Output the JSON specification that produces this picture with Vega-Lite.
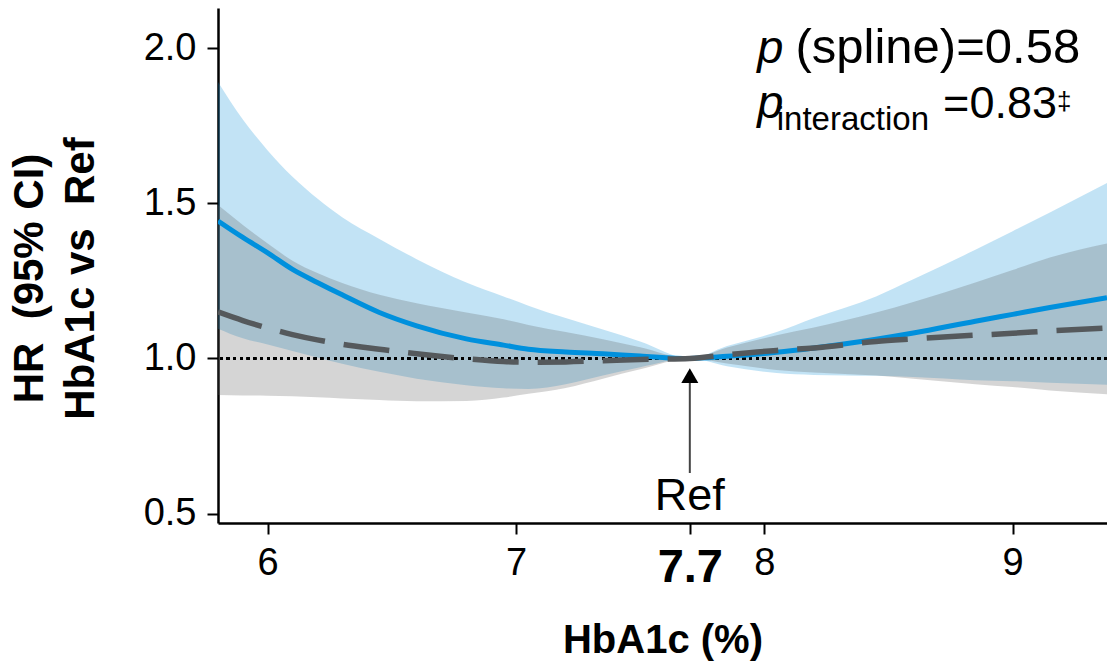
{
  "$schema": "https://vega.github.io/schema/vega-lite/v6.json",
  "width": 889,
  "height": 515,
  "autosize": {"type": "none"},
  "padding": {"left": 218, "top": 8, "right": 0, "bottom": 140},
  "background": "white",
  "config": {"view": {"stroke": null}, "font": "Liberation Sans"},
  "data": {
    "values": [
      {"x": 5.8, "b": 1.443, "bl": 1.096, "bu": 1.891, "g": 1.15, "gl": 0.882, "gu": 1.494},
      {"x": 5.9, "b": 1.39, "bl": 1.065, "bu": 1.77, "g": 1.122, "gl": 0.881, "gu": 1.43},
      {"x": 6.0, "b": 1.34, "bl": 1.045, "bu": 1.67, "g": 1.098, "gl": 0.88, "gu": 1.37},
      {"x": 6.1, "b": 1.287, "bl": 1.024, "bu": 1.585, "g": 1.077, "gl": 0.878, "gu": 1.315},
      {"x": 6.2, "b": 1.245, "bl": 1.003, "bu": 1.515, "g": 1.06, "gl": 0.875, "gu": 1.275},
      {"x": 6.3, "b": 1.205, "bl": 0.983, "bu": 1.455, "g": 1.046, "gl": 0.871, "gu": 1.243},
      {"x": 6.45, "b": 1.148, "bl": 0.957, "bu": 1.385, "g": 1.03, "gl": 0.866, "gu": 1.205},
      {"x": 6.6, "b": 1.105, "bl": 0.935, "bu": 1.32, "g": 1.015, "gl": 0.862, "gu": 1.178},
      {"x": 6.8, "b": 1.063, "bl": 0.914, "bu": 1.245, "g": 0.999, "gl": 0.863, "gu": 1.148},
      {"x": 6.95, "b": 1.043, "bl": 0.904, "bu": 1.2, "g": 0.99, "gl": 0.874, "gu": 1.126},
      {"x": 7.05, "b": 1.03, "bl": 0.902, "bu": 1.17, "g": 0.988, "gl": 0.886, "gu": 1.108},
      {"x": 7.2, "b": 1.021, "bl": 0.917, "bu": 1.13, "g": 0.989, "gl": 0.905, "gu": 1.085},
      {"x": 7.35, "b": 1.015, "bl": 0.945, "bu": 1.093, "g": 0.993, "gl": 0.935, "gu": 1.062},
      {"x": 7.5, "b": 1.008, "bl": 0.972, "bu": 1.055, "g": 0.997, "gl": 0.965, "gu": 1.036},
      {"x": 7.7, "b": 1.0, "bl": 1.0, "bu": 1.0, "g": 1.0, "gl": 1.0, "gu": 1.0},
      {"x": 7.85, "b": 1.007, "bl": 0.975, "bu": 1.04, "g": 1.012, "gl": 0.984, "gu": 1.035},
      {"x": 8.05, "b": 1.02, "bl": 0.953, "bu": 1.085, "g": 1.026, "gl": 0.963, "gu": 1.075},
      {"x": 8.2, "b": 1.034, "bl": 0.947, "bu": 1.13, "g": 1.034, "gl": 0.955, "gu": 1.1},
      {"x": 8.45, "b": 1.062, "bl": 0.944, "bu": 1.2, "g": 1.055, "gl": 0.945, "gu": 1.148},
      {"x": 8.6, "b": 1.082, "bl": 0.94, "bu": 1.255, "g": 1.063, "gl": 0.935, "gu": 1.182},
      {"x": 8.85, "b": 1.12, "bl": 0.93, "bu": 1.35, "g": 1.075, "gl": 0.917, "gu": 1.245},
      {"x": 9.0, "b": 1.142, "bl": 0.927, "bu": 1.41, "g": 1.081, "gl": 0.908, "gu": 1.285},
      {"x": 9.15, "b": 1.164, "bl": 0.922, "bu": 1.47, "g": 1.089, "gl": 0.897, "gu": 1.325},
      {"x": 9.38, "b": 1.196, "bl": 0.915, "bu": 1.565, "g": 1.098, "gl": 0.885, "gu": 1.37}
    ]
  },
  "layer": [
    {
      "mark": {"type": "area", "color": "#0b8fd7", "opacity": 0.25, "interpolate": "monotone", "clip": true},
      "encoding": {
        "x": {
          "field": "x", "type": "quantitative",
          "scale": {"domain": [5.8, 9.38], "nice": false, "zero": false},
          "axis": {
            "title": "HbA1c (%)",
            "values": [6, 7, 7.7, 8, 9],
            "labelExpr": "'' + datum.value",
            "grid": false,
            "domainColor": "black", "domainWidth": 2.5,
            "tickColor": "black", "tickWidth": 2, "tickSize": 11,
            "labelColor": "black",
            "labelFontSize": {"condition": {"test": "datum.value == 7.7", "value": 47}, "value": 38},
            "labelFontWeight": {"condition": {"test": "datum.value == 7.7", "value": "bold"}, "value": "normal"},
            "labelPadding": 10,
            "labelFlush": false,
            "labelOverlap": false,
            "titleFontSize": 40, "titleFontWeight": "bold", "titleColor": "black",
            "titlePadding": 30
          }
        },
        "y": {
          "field": "bu", "type": "quantitative",
          "scale": {"domain": [0.47, 2.129], "nice": false, "zero": false},
          "axis": {
            "title": ["HR \u00a0(95% CI)", "HbA1c vs \u00a0Ref"],
            "values": [0.5, 1, 1.5, 2],
            "format": ".1f",
            "grid": false,
            "domainColor": "black", "domainWidth": 2.5,
            "tickColor": "black", "tickWidth": 2, "tickSize": 11,
            "labelColor": "black", "labelFontSize": 38, "labelPadding": 11,
            "labelFlush": false,
            "titleFontSize": 42, "titleFontWeight": "bold", "titleColor": "black",
            "titleLineHeight": 51,
            "titlePadding": 41,
            "titleY": 270
          }
        },
        "y2": {"field": "bl"}
      }
    },
    {
      "mark": {"type": "area", "color": "#575757", "opacity": 0.25, "interpolate": "monotone", "clip": true},
      "encoding": {
        "x": {"field": "x", "type": "quantitative"},
        "y": {"field": "gu", "type": "quantitative"},
        "y2": {"field": "gl"}
      }
    },
    {
      "mark": {"type": "rule", "color": "black", "strokeWidth": 2.5, "strokeDash": [2.5, 4.2]},
      "encoding": {"y": {"datum": 1}}
    },
    {
      "mark": {"type": "line", "color": "#0090dd", "strokeWidth": 5, "interpolate": "monotone", "clip": true},
      "encoding": {
        "x": {"field": "x", "type": "quantitative"},
        "y": {"field": "b", "type": "quantitative"}
      }
    },
    {
      "mark": {"type": "line", "color": "#55595c", "strokeWidth": 5.5, "strokeDash": [46, 19], "interpolate": "monotone", "clip": true},
      "encoding": {
        "x": {"field": "x", "type": "quantitative"},
        "y": {"field": "g", "type": "quantitative"}
      }
    },
    {
      "data": {"values": [{"ax": 7.7, "ay": 0.631, "ay2": 0.93}]},
      "mark": {"type": "rule", "color": "#444444", "strokeWidth": 2},
      "encoding": {
        "x": {"field": "ax", "type": "quantitative"},
        "y": {"field": "ay", "type": "quantitative"},
        "y2": {"field": "ay2"}
      }
    },
    {
      "data": {"values": [{"ax": 7.7, "ay": 0.945}]},
      "mark": {"type": "point", "shape": "triangle-up", "filled": true, "color": "black", "opacity": 1, "size": 290},
      "encoding": {
        "x": {"field": "ax", "type": "quantitative"},
        "y": {"field": "ay", "type": "quantitative"}
      }
    },
    {
      "data": {"values": [{"tx": 7.7, "ty": 0.512, "t": "Ref"}]},
      "mark": {"type": "text", "align": "center", "baseline": "alphabetic", "fontSize": 45, "color": "black"},
      "encoding": {
        "x": {"field": "tx", "type": "quantitative"},
        "y": {"field": "ty", "type": "quantitative"},
        "text": {"field": "t"}
      }
    },
    {
      "data": {"values": [{"tx": 7.972, "ty": 1.952, "t": "p"}, {"tx": 7.972, "ty": 1.776, "t": "p"}]},
      "mark": {"type": "text", "align": "left", "baseline": "alphabetic", "fontSize": 47, "fontStyle": "italic", "color": "black"},
      "encoding": {
        "x": {"field": "tx", "type": "quantitative"},
        "y": {"field": "ty", "type": "quantitative"},
        "text": {"field": "t"}
      }
    },
    {
      "data": {"values": [{"tx": 9.272, "ty": 1.952, "t": "(spline)=0.58"}]},
      "mark": {"type": "text", "align": "right", "baseline": "alphabetic", "fontSize": 49, "color": "black"},
      "encoding": {
        "x": {"field": "tx", "type": "quantitative"},
        "y": {"field": "ty", "type": "quantitative"},
        "text": {"field": "t"}
      }
    },
    {
      "data": {"values": [{"tx": 8.05, "ty": 1.737, "t": "interaction"}]},
      "mark": {"type": "text", "align": "left", "baseline": "alphabetic", "fontSize": 33, "color": "black"},
      "encoding": {
        "x": {"field": "tx", "type": "quantitative"},
        "y": {"field": "ty", "type": "quantitative"},
        "text": {"field": "t"}
      }
    },
    {
      "data": {"values": [{"tx": 8.72, "ty": 1.776, "t": "=0.83"}]},
      "mark": {"type": "text", "align": "left", "baseline": "alphabetic", "fontSize": 45, "color": "black"},
      "encoding": {
        "x": {"field": "tx", "type": "quantitative"},
        "y": {"field": "ty", "type": "quantitative"},
        "text": {"field": "t"}
      }
    },
    {
      "data": {"values": [{"tx": 9.179, "ty": 1.8, "t": "‡"}]},
      "mark": {"type": "text", "align": "left", "baseline": "alphabetic", "fontSize": 26, "color": "black"},
      "encoding": {
        "x": {"field": "tx", "type": "quantitative"},
        "y": {"field": "ty", "type": "quantitative"},
        "text": {"field": "t"}
      }
    }
  ]
}
